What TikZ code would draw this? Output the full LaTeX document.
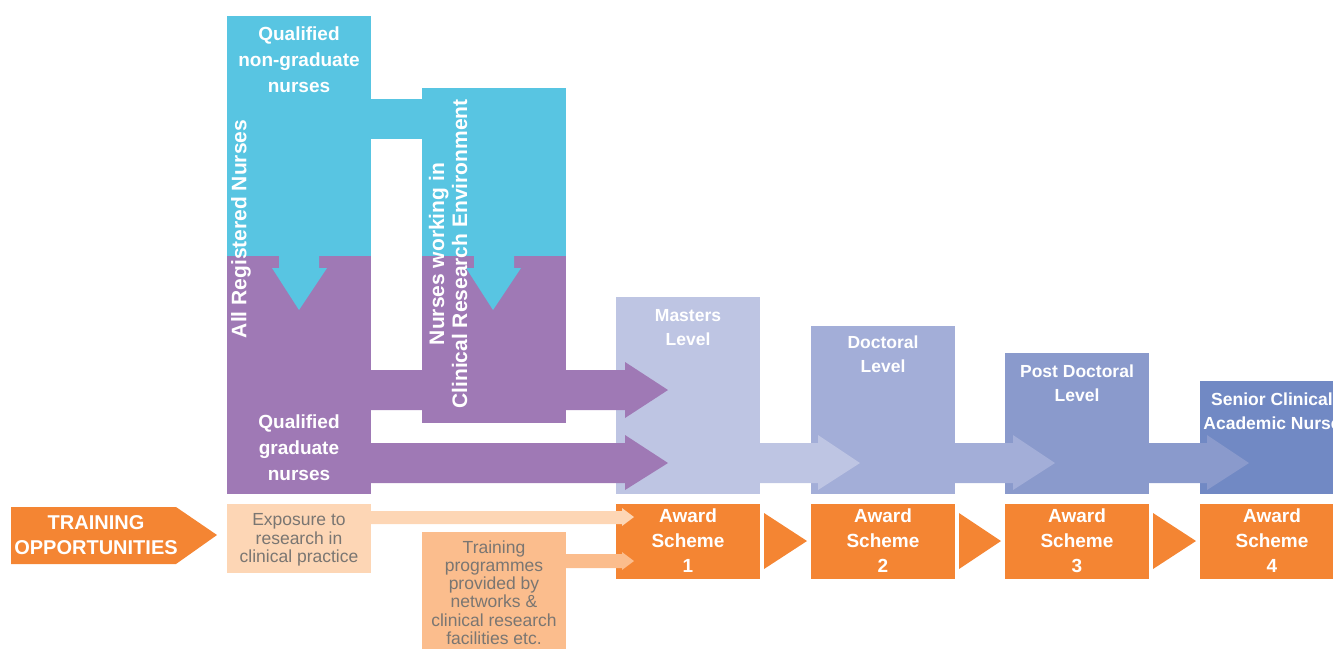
\documentclass[tikz,border=0pt]{standalone}
\usepackage{fontspec}
\setmainfont{Liberation Sans}
\definecolor{cyanA}{HTML}{58C5E2}
\definecolor{purpA}{HTML}{9F79B5}
\definecolor{lvlA}{HTML}{BEC5E3}
\definecolor{lvlB}{HTML}{A3AED8}
\definecolor{lvlC}{HTML}{8A9ACC}
\definecolor{lvlD}{HTML}{7189C4}
\definecolor{orgA}{HTML}{F48533}
\definecolor{peachA}{HTML}{FDD6B5}
\definecolor{peachB}{HTML}{FBBD8D}
\definecolor{greyT}{HTML}{7A7672}
\tikzset{
  wtext/.style={text=white,align=center,inner sep=0pt,font=\bfseries\fontsize{19}{26}\selectfont},
  rtext/.style={text=white,align=center,inner sep=0pt,rotate=90,font=\bfseries\fontsize{21}{23}\selectfont},
  lvtext/.style={text=white,align=center,inner sep=0pt,font=\bfseries\fontsize{17.5}{24}\selectfont},
  awtext/.style={text=white,align=center,inner sep=0pt,font=\bfseries\fontsize{19}{25}\selectfont},
  gtext/.style={text=greyT,align=center,inner sep=0pt,font=\fontsize{17.5}{18.3}\selectfont}
}
\begin{document}
\begin{tikzpicture}[x=1pt,y=-1pt]
\useasboundingbox (0,0) rectangle (1333,649);
\begin{scope}
\clip (0,0) rectangle (1333,649);
% cyan group
\fill[cyanA] (227,16) rectangle (371,256);
\fill[cyanA] (371,99) rectangle (422,139);
\fill[cyanA] (422,88) rectangle (566,256);
% purple group
\fill[purpA] (227,256) rectangle (371,494);
\fill[purpA] (422,256) rectangle (566,423);
% cyan down arrows
\fill[cyanA] (279,256) -- (319,256) -- (319,268) -- (327,268) -- (299,310) -- (272,268) -- (279,268) -- cycle;
\fill[cyanA] (474,256) -- (514,256) -- (514,268) -- (521,268) -- (493,310) -- (466,268) -- (474,268) -- cycle;
% level boxes
\fill[lvlA] (616,297) rectangle (760,494);
\fill[lvlB] (811,326) rectangle (955,494);
\fill[lvlC] (1005,353) rectangle (1149,494);
\fill[lvlD] (1200,381) rectangle (1344,494);
% purple arrows into masters
\fill[purpA] (371,370) -- (625,370) -- (625,362) -- (668,390) -- (625,418) -- (625,410) -- (371,410) -- cycle;
\fill[purpA] (371,443) -- (625,443) -- (625,435) -- (668,463) -- (625,490) -- (625,483) -- (371,483) -- cycle;
% level arrows
\fill[lvlA] (760,443) -- (818,443) -- (818,435) -- (860,463) -- (818,490) -- (818,483) -- (760,483) -- cycle;
\fill[lvlB] (955,443) -- (1013,443) -- (1013,435) -- (1055,463) -- (1013,490) -- (1013,483) -- (955,483) -- cycle;
\fill[lvlC] (1149,443) -- (1207,443) -- (1207,435) -- (1249,463) -- (1207,490) -- (1207,483) -- (1149,483) -- cycle;
% training opportunities arrow
\fill[orgA] (11,507) -- (176,507) -- (217,535) -- (176,564) -- (11,564) -- cycle;
% award boxes
\fill[orgA] (616,504) rectangle (760,579);
\fill[orgA] (811,504) rectangle (955,579);
\fill[orgA] (1005,504) rectangle (1149,579);
\fill[orgA] (1200,504) rectangle (1344,579);
\fill[orgA] (764,513) -- (807,541) -- (764,569) -- cycle;
\fill[orgA] (959,513) -- (1001,541) -- (959,569) -- cycle;
\fill[orgA] (1153,513) -- (1196,541) -- (1153,569) -- cycle;
% exposure and training boxes with arrows
\fill[peachA] (227,504) rectangle (371,573);
\fill[peachB] (422,532) rectangle (566,649);
\fill[peachA] (371,511) -- (622,511) -- (622,508) -- (634,517) -- (622,526) -- (622,524) -- (371,524) -- cycle;
\fill[peachB] (566,554) -- (622,554) -- (622,552) -- (634,561) -- (622,570) -- (622,568) -- (566,568) -- cycle;
% texts
\node[wtext] (qng) at (299,60) {Qualified\\non-graduate\\nurses};
\node[wtext] (qg) at (299,448) {Qualified\\graduate\\nurses};
\node[rtext] (arn) at (241,229) {All Registered Nurses};
\node[rtext] (nwc) at (448,254) {Nurses working in\\Clinical Research Environment};
\node[lvtext] (ml) at (688,328) {Masters\\Level};
\node[lvtext] (dl) at (883,354) {Doctoral\\Level};
\node[lvtext] (pdl) at (1077,383) {Post Doctoral\\Level};
\node[lvtext] (scn) at (1272,411) {Senior Clinical\\Academic Nurse};
\node[awtext] (aw1) at (688,541) {Award\\Scheme\\1};
\node[awtext] (aw2) at (883,541) {Award\\Scheme\\2};
\node[awtext] (aw3) at (1077,541) {Award\\Scheme\\3};
\node[awtext] (aw4) at (1272,541) {Award\\Scheme\\4};
\node[awtext,font=\bfseries\fontsize{20}{25}\selectfont] (topp) at (96,535) {TRAINING\\OPPORTUNITIES};
\node[gtext] (expo) at (299,540) {Exposure to\\research in\\clinical practice};
\node[gtext] (trp) at (494,592.5) {Training\\programmes\\provided by\\networks \&\\clinical research\\facilities etc.};
\end{scope}
\end{tikzpicture}
\end{document}
